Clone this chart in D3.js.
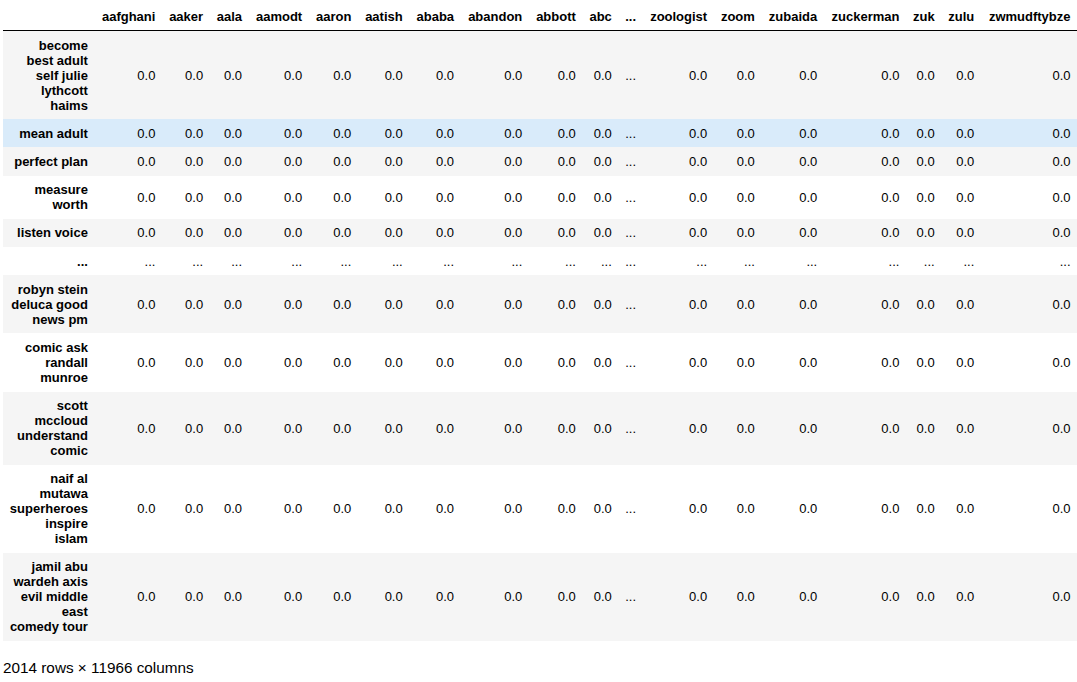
<!DOCTYPE html>
<html>
<head>
<meta charset="utf-8">
<script src="https://cdn.jsdelivr.net/npm/d3@7"></script>
<style>
  body { margin: 0; background: #fff; font-family: "Liberation Sans", Arial, sans-serif; color: #000; }
  .wrap { margin: 2px 0 0 3px; width: 1074px; }
  table { border-collapse: collapse; border-spacing: 0; border: none; font-size: 13px; width: 1074px; }
  thead { border-bottom: 1px solid #000; vertical-align: bottom; }
  th, td { text-align: right; vertical-align: middle; padding: 6.5px 6.5px; line-height: 15px; white-space: normal; border: none; }
  tbody th, tbody td { padding-top: 6.6px; padding-bottom: 6.6px; }
  th { font-weight: bold; }
  th.index { width: 78.4px; }
  tbody tr:nth-child(odd) { background: #f5f5f5; }
  tbody tr.hover { background: #d9ebfa; }
  p.shape { font-size: 15.3px; margin: 18px 0 0 3px; }
</style>
</head>
<body>
<div class="wrap" id="table"></div>
<p class="shape" id="shape"></p>
<script>
// column labels shown before and after the truncation column
const headColumns = ['aafghani', 'aaker', 'aala', 'aamodt', 'aaron', 'aatish', 'ababa', 'abandon', 'abbott', 'abc'];
const tailColumns = ['zoologist', 'zoom', 'zubaida', 'zuckerman', 'zuk', 'zulu', 'zwmudftybze'];

// row labels shown before and after the truncation row
const headRows = ['become best adult self julie lythcott haims', 'mean adult', 'perfect plan', 'measure worth', 'listen voice'];
const tailRows = ['robyn stein deluca good news pm', 'comic ask randall munroe', 'scott mccloud understand comic',
  'naif al mutawa superheroes inspire islam', 'jamil abu wardeh axis evil middle east comedy tour'];

// visible values, one list per row (head columns then tail columns)
const headValues = [
  [0, 0, 0, 0, 0, 0, 0, 0, 0, 0, 0, 0, 0, 0, 0, 0, 0],
  [0, 0, 0, 0, 0, 0, 0, 0, 0, 0, 0, 0, 0, 0, 0, 0, 0],
  [0, 0, 0, 0, 0, 0, 0, 0, 0, 0, 0, 0, 0, 0, 0, 0, 0],
  [0, 0, 0, 0, 0, 0, 0, 0, 0, 0, 0, 0, 0, 0, 0, 0, 0],
  [0, 0, 0, 0, 0, 0, 0, 0, 0, 0, 0, 0, 0, 0, 0, 0, 0],
];
const tailValues = [
  [0, 0, 0, 0, 0, 0, 0, 0, 0, 0, 0, 0, 0, 0, 0, 0, 0],
  [0, 0, 0, 0, 0, 0, 0, 0, 0, 0, 0, 0, 0, 0, 0, 0, 0],
  [0, 0, 0, 0, 0, 0, 0, 0, 0, 0, 0, 0, 0, 0, 0, 0, 0],
  [0, 0, 0, 0, 0, 0, 0, 0, 0, 0, 0, 0, 0, 0, 0, 0, 0],
  [0, 0, 0, 0, 0, 0, 0, 0, 0, 0, 0, 0, 0, 0, 0, 0, 0],
];

const totalRows = 2014;
const totalColumns = 11966;
const hoveredRow = 'mean adult';

const ELLIPSIS = '...';
const fmt = d3.format('.1f');

// splice the "..." column into a row of values
const withGap = (vals) => [
  ...vals.slice(0, headColumns.length).map(fmt),
  ELLIPSIS,
  ...vals.slice(headColumns.length).map(fmt),
];

const columns = ['', ...headColumns, ELLIPSIS, ...tailColumns];
const rows = [
  ...headRows.map((name, i) => ({ name, cells: withGap(headValues[i]) })),
  { name: ELLIPSIS, cells: columns.slice(1).map(() => ELLIPSIS) },
  ...tailRows.map((name, i) => ({ name, cells: withGap(tailValues[i]) })),
];

const table = d3.select('#table').append('table').attr('class', 'dataframe');

table
  .append('thead')
  .append('tr')
  .selectAll('th')
  .data(columns)
  .join('th')
  .classed('index', (_d, i) => i === 0)
  .text((d) => d);

const tr = table
  .append('tbody')
  .selectAll('tr')
  .data(rows)
  .join('tr')
  .classed('hover', (d) => d.name === hoveredRow);

tr.append('th').attr('class', 'index').text((d) => d.name);
tr.selectAll('td')
  .data((d) => d.cells)
  .join('td')
  .text((d) => d);

d3.select('#shape').text(`${totalRows} rows \u00d7 ${totalColumns} columns`);
</script>
</body>
</html>
